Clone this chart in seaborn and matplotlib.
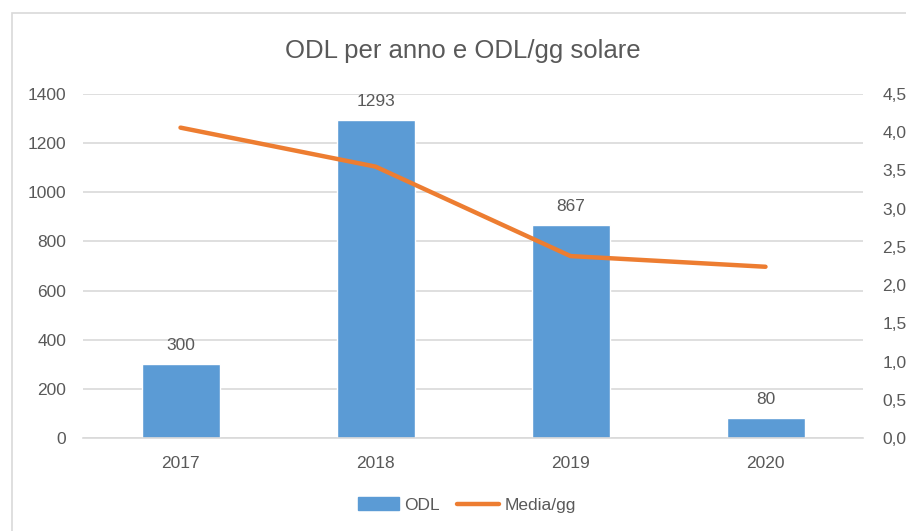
import matplotlib
matplotlib.use("Agg")
import matplotlib.pyplot as plt
import seaborn as sns
import pandas as pd
from matplotlib.patches import Rectangle, Patch
from matplotlib.lines import Line2D

years = ["2017", "2018", "2019", "2020"]
odl = [300, 1293, 867, 80]
media_gg = [4.06, 3.55, 2.38, 2.24]
left_ticks = [0, 200, 400, 600, 800, 1000, 1200, 1400]
right_ticks = [0.0, 0.5, 1.0, 1.5, 2.0, 2.5, 3.0, 3.5, 4.0, 4.5]

blue = "#5B9BD5"
orange = "#ED7D31"
grey = "#595959"

sns.set_style("white")
plt.rcParams["font.family"] = ["Liberation Sans", "DejaVu Sans"]

df = pd.DataFrame({"anno": years, "ODL": odl, "media": media_gg})
df["pos"] = range(len(years))

fig = plt.figure(figsize=(9.06, 5.31), dpi=100)
ax = fig.add_axes([83 / 906, 1 - 438 / 531, 780 / 906, 344 / 531])

sns.barplot(data=df, x="anno", y="ODL", color=blue, width=0.4, saturation=1, ax=ax, zorder=2)
ax.set_xlim(-0.5, 3.5)
ax.set_ylim(0, 1400)
ax.set_yticks(left_ticks)
ax.grid(axis="y", color="#D9D9D9", linewidth=1.2, zorder=0)
ax.set_axisbelow(True)
for s in ["top", "right", "left"]:
    ax.spines[s].set_visible(False)
ax.spines["bottom"].set_color("#D9D9D9")
ax.spines["bottom"].set_linewidth(1.2)
ax.set_xlabel("")
ax.set_ylabel("")
ax.tick_params(axis="both", length=0, labelsize=12.5, colors=grey)
ax.tick_params(axis="y", pad=12)
ax.tick_params(axis="x", pad=13)

for i, v in enumerate(odl):
    ax.annotate(str(v), (i, v), xytext=(0, 8), textcoords="offset points",
                ha="center", va="bottom", fontsize=12.5, color=grey)

ax2 = ax.twinx()
sns.lineplot(data=df, x="pos", y="media", color=orange, linewidth=3.2, ax=ax2,
             solid_capstyle="round", zorder=3)
ax2.set_ylim(0, 4.5)
ax2.set_yticks(right_ticks)
ax2.set_yticklabels([f"{t:.1f}".replace(".", ",") for t in right_ticks])
ax2.set_xlim(-0.5, 3.5)
ax2.set_ylabel("")
ax2.grid(False)
for s in ax2.spines.values():
    s.set_visible(False)
ax2.tick_params(axis="y", length=0, labelsize=12.5, colors=grey, pad=14)

fig.text(0.511, 1 - 51 / 531, "ODL per anno e ODL/gg solare", ha="center", va="center",
         fontsize=18.5, color=grey)

fig.patches.append(Rectangle((12 / 906, -0.1), 1.2, 1 - 13 / 531 + 0.1, transform=fig.transFigure,
                             fill=False, edgecolor="#D9D9D9", linewidth=1.2))

handles = [Patch(facecolor=blue, edgecolor=blue), Line2D([0], [0], color=orange, linewidth=3.2)]
fig.legend(handles, ["ODL", "Media/gg"], loc="center", bbox_to_anchor=(0.515, 1 - 505 / 531),
           ncol=2, frameon=False, fontsize=12.5, labelcolor=grey, handlelength=2.4,
           columnspacing=1.0, handletextpad=0.3)

fig.savefig("out.png", dpi=100)
